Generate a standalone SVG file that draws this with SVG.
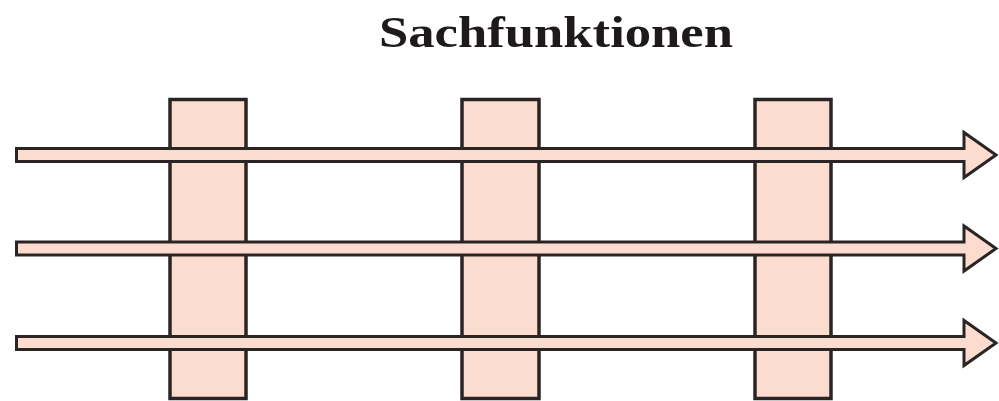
<svg xmlns="http://www.w3.org/2000/svg" width="999" height="401" viewBox="0 0 999 401">
<style>
.col{fill:#fbdccf;stroke:#2b2425;stroke-width:3.5}
.arr{fill:#fbdccf;stroke:#2b2425;stroke-width:3;stroke-linejoin:miter}
.title{font-family:"Liberation Serif","DejaVu Serif",serif;font-weight:bold;font-size:44px;fill:#1e1a1b}
</style>
<rect width="999" height="401" fill="#ffffff"/>
<text class="title" x="556" y="47" text-anchor="middle" textLength="354" lengthAdjust="spacingAndGlyphs">Sachfunktionen</text>
<g id="col1"><rect class="col" x="170" y="99.5" width="76" height="299"/></g>
<g id="col2"><rect class="col" x="462" y="99.5" width="77" height="299"/></g>
<g id="col3"><rect class="col" x="755" y="99.5" width="76" height="299"/></g>
<g id="connectors">
<path class="arr" d="M16.5,148.5 H964 V132.5 L996,155 L964,177.5 V161.5 H16.5 Z"/>
<path class="arr" d="M16.5,242 H964 V226 L996,248.5 L964,271 V255 H16.5 Z"/>
<path class="arr" d="M16.5,336.5 H964 V320.5 L996,343 L964,365.5 V349.5 H16.5 Z"/>
</g>
</svg>
